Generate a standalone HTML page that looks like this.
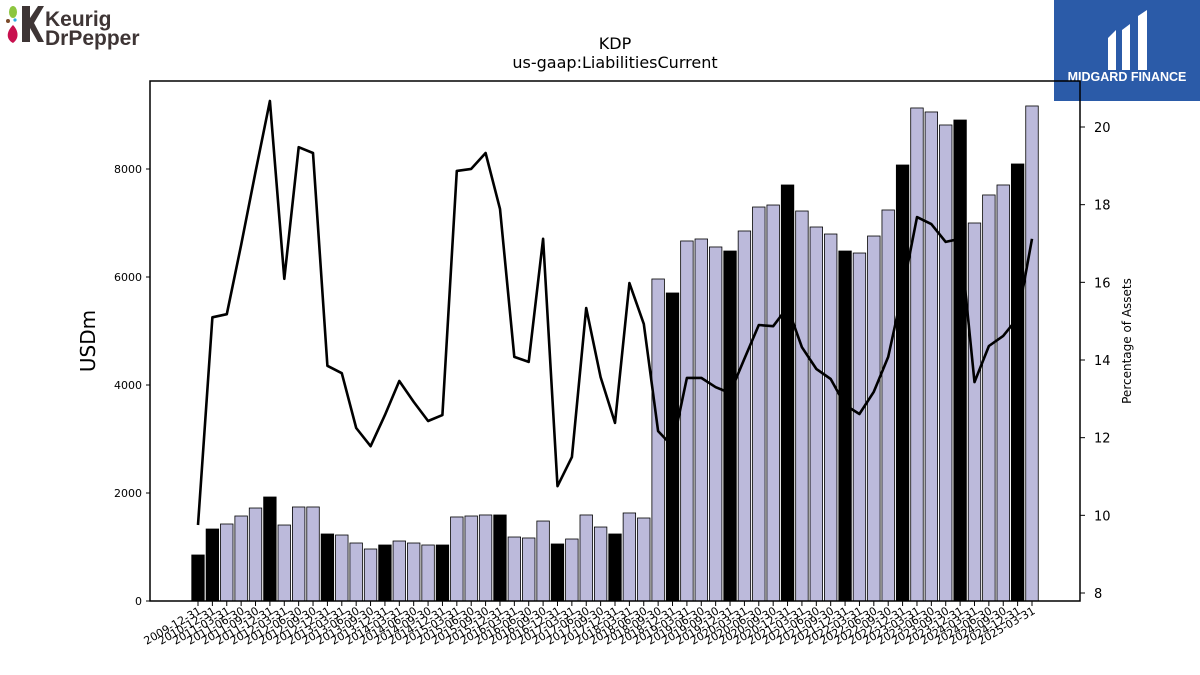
<!DOCTYPE html>
<html><head><meta charset="utf-8">
<style>
html,body{margin:0;padding:0;background:#fff;width:1200px;height:675px;overflow:hidden;font-family:"Liberation Sans","DejaVu Sans",sans-serif;}
</style></head>
<body>
<svg id="chart" width="1200" height="675" xmlns="http://www.w3.org/2000/svg" font-family="DejaVu Sans, Liberation Sans, sans-serif">
  <g>
    <ellipse cx="13" cy="12" rx="4" ry="6" fill="#8dc63f"/>
    <circle cx="8" cy="21" r="2" fill="#7b4a2a"/>
    <circle cx="15" cy="20" r="1.6" fill="#29abe2"/>
    <path d="M13 25 C18 30 20 38 13 43 C7 40 5 33 13 25Z" fill="#c8104e"/>
    <path d="M22 6 L30 6 L30 18 L38 6 L44 6 L34 23 L44 42 L38 42 L30 28 L30 42 L22 42 Z" fill="#3e3535"/>
    <text x="45" y="26" font-family="Liberation Sans, sans-serif" font-weight="bold" font-size="21" fill="#3e3535">Keurig</text>
    <text x="45" y="45" font-family="Liberation Sans, sans-serif" font-weight="bold" font-size="21" fill="#3e3535">DrPepper</text>
  </g>
  <g>
    <rect x="1054" y="0" width="146" height="101" fill="#2b5ba8"/>
    <path d="M1108 38 L1116 30 L1116 70 L1108 70Z M1122 30 L1130 24 L1130 70 L1122 70Z M1138 16 L1147 10 L1147 70 L1138 70Z" fill="#fff"/>
    <text x="1127" y="81" text-anchor="middle" font-family="Liberation Sans, sans-serif" font-weight="bold" font-size="12.5" fill="#fff">MIDGARD FINANCE</text>
  </g>
  <text x="615" y="49" text-anchor="middle" font-size="16">KDP</text>
  <text x="615" y="68" text-anchor="middle" font-size="16">us-gaap:LiabilitiesCurrent</text>
  <text transform="translate(95,341) rotate(-90)" text-anchor="middle" font-size="20">USDm</text>
  <text transform="translate(1131,341) rotate(-90)" text-anchor="middle" font-size="12">Percentage of Assets</text>
  <g id="bars"></g>
  <g id="line"></g>
  <g id="axes"></g>
</svg>
<script>
const categories = ["2009-12-31","2010-12-31"];
(function(){for(let y=2011;y<=2025;y++){for(const q of ["03-31","06-30","09-30","12-31"]){if(y===2025&&q!=="03-31")continue;categories.push(y+"-"+q);}}})();
const liabilities = [852,1333,1426,1574,1722,1926,1407,1741,1741,1241,1222,1074,963,1037,1111,1074,1037,1037,1556,1574,1593,1593,1185,1167,1481,1056,1148,1593,1370,1241,1630,1537,5963,5704,6667,6704,6556,6481,6852,7296,7333,7704,7222,6926,6796,6481,6444,6759,7241,8074,9130,9056,8815,8907,7000,7519,7704,8093,9167];
const pctAssets = [9.75,15.1,15.18,16.96,18.84,20.67,16.09,19.48,19.33,13.85,13.66,12.25,11.78,12.58,13.46,12.92,12.43,12.58,18.87,18.92,19.33,17.89,14.08,13.95,17.12,10.75,11.5,15.34,13.56,12.38,15.98,14.93,12.17,11.78,13.54,13.54,13.3,13.15,14.03,14.9,14.87,15.36,14.33,13.77,13.51,12.84,12.61,13.18,14.08,15.78,17.68,17.5,17.04,17.12,13.43,14.36,14.62,15.08,17.12];
const leftTicks = [0,2000,4000,6000,8000];
const rightTicks = [8,10,12,14,16,18,20];

const NS="http://www.w3.org/2000/svg";
const L=150,R=1080,T=81,B=601;
const n=categories.length;
const x0=198,step=(1032-198)/(n-1);
function xs(i){return x0+i*step;}
function yL(v){return B-(v/8000)*432;}
function yR(p){return 593-(p-8)*(466/12);}
function mk(tag,attrs,parent){const e=document.createElementNS(NS,tag);for(const k in attrs)e.setAttribute(k,attrs[k]);parent.appendChild(e);return e;}
const bars=document.getElementById('bars'),line=document.getElementById('line'),axes=document.getElementById('axes');
const bw=12.5;
liabilities.forEach((v,i)=>{
  const isYE=categories[i].endsWith("12-31");
  const r=mk('rect',{x:xs(i)-bw/2,y:yL(v),width:bw,height:B-yL(v),fill:isYE?'#000':'#bcbadb',stroke:'#000','stroke-width':0.8},bars);
  
  
});
const pts=pctAssets.map((p,i)=>xs(i).toFixed(1)+','+yR(p).toFixed(1)).join(' ');
const pl=mk('polyline',{points:pts,fill:'none',stroke:'#000','stroke-width':2.6,'stroke-linejoin':'round'},line);


const frame=mk('rect',{x:L,y:T,width:R-L,height:B-T,fill:'none',stroke:'#000','stroke-width':1.5},axes);


leftTicks.forEach(t=>{
  mk('line',{x1:L-4,x2:L,y1:yL(t),y2:yL(t),stroke:'#000'},axes);
  const tx=mk('text',{x:L-8,y:yL(t)+4,'text-anchor':'end','font-size':11},axes);
  tx.textContent=t;
  
  
});
rightTicks.forEach(t=>{
  mk('line',{x1:R,x2:R+5,y1:yR(t),y2:yR(t),stroke:'#000'},axes);
  const tx=mk('text',{x:R+14,y:yR(t)+5,'font-size':13},axes);
  tx.textContent=t;
  
  
});
categories.forEach((c,i)=>{
  mk('line',{x1:xs(i),x2:xs(i),y1:B,y2:B+5,stroke:'#000'},axes);
  const tx=mk('text',{transform:'translate('+(xs(i)+4)+','+(B+12)+') rotate(-30)','text-anchor':'end','font-size':11},axes);
  tx.textContent=c;
  
  
});
</script>
</body></html>
